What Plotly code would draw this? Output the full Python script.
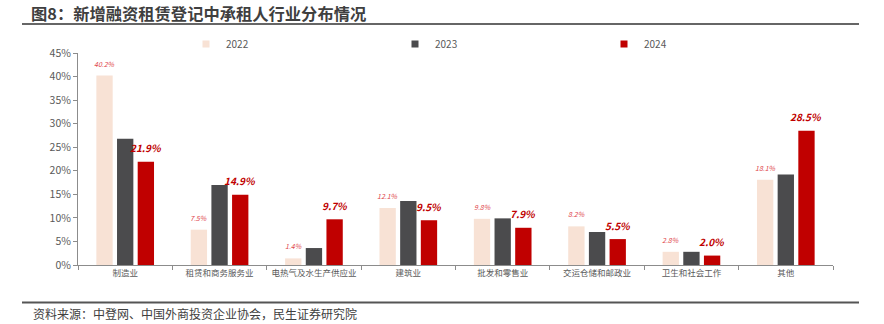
import plotly.graph_objects as go

# Industry distribution of lessees in new financial-leasing registrations (%)
categories = ["制造业", "租赁和商务服务业", "电热气及水生产供应业", "建筑业",
              "批发和零售业", "交运仓储和邮政业", "卫生和社会工作", "其他"]
years = ["2022", "2023", "2024"]
share_2022 = [40.2, 7.5, 1.4, 12.1, 9.8, 8.2, 2.8, 18.1]
share_2023 = [26.8, 17.0, 3.6, 13.6, 9.9, 7.0, 2.8, 19.2]
share_2024 = [21.9, 14.9, 9.7, 9.5, 7.9, 5.5, 2.0, 28.5]
y_ticks = [0, 5, 10, 15, 20, 25, 30, 35, 40, 45]

colors = {"2022": "#F8E2D5", "2023": "#4B4B4D", "2024": "#C00000"}
series = {"2022": share_2022, "2023": share_2023, "2024": share_2024}

FONT = "Noto Sans CJK SC"
W, H = 884, 324
L, R, T, B = 78, 51, 53, 59
plot_w = W - L - R
plot_h = H - T - B


def px_x(px):
    return (px - L) / plot_w


def px_y(py):
    return (H - B - py) / plot_h


fig = go.Figure()
for yr in years:
    fig.add_trace(go.Bar(
        x=categories, y=series[yr], name=yr,
        marker=dict(color=colors[yr], line=dict(width=0)),
        showlegend=False, hoverinfo="skip",
    ))
    # small square legend swatches
    fig.add_trace(go.Scatter(
        x=[None], y=[None], mode="markers", name=yr,
        marker=dict(symbol="square", size=7, color=colors[yr]),
    ))

annotations = []
bar_pitch = plot_w / len(categories) * (1 - 0.343) / 3
for cat, v in zip(categories, share_2022):
    annotations.append(dict(
        x=cat, y=v, xref="x", yref="y", text=f"{v:.1f}%", showarrow=False,
        xshift=-bar_pitch, yshift=12, yanchor="middle",
        font=dict(family=FONT, size=7, color="#E0474C", style="italic"),
    ))
for cat, v in zip(categories, share_2024):
    annotations.append(dict(
        x=cat, y=v, xref="x", yref="y", text=f"<b>{v:.1f}%</b>", showarrow=False,
        xshift=bar_pitch, yshift=14, yanchor="middle",
        font=dict(family=FONT, size=10, color="#C00000", style="italic"),
    ))
annotations.append(dict(
    x=px_x(31), y=px_y(313), xref="paper", yref="paper", xanchor="left",
    yanchor="middle", showarrow=False,
    text="资料来源：中登网、中国外商投资企业协会，民生证券研究院",
    font=dict(family=FONT, size=12, color="#404040"),
))

shapes = [
    dict(type="line", xref="paper", yref="paper", x0=px_x(22), x1=px_x(859),
         y0=px_y(24), y1=px_y(24), line=dict(color="#666666", width=2)),
    dict(type="line", xref="paper", yref="paper", x0=px_x(22), x1=px_x(859),
         y0=px_y(302.5), y1=px_y(302.5), line=dict(color="#555555", width=2)),
]

fig.update_layout(
    width=W, height=H,
    margin=dict(l=L, r=R, t=T, b=B),
    paper_bgcolor="white", plot_bgcolor="white",
    barmode="group", bargap=0.343, bargroupgap=0.21,
    font=dict(family=FONT, color="#595959"),
    title=dict(
        text="<b>图8：新增融资租赁登记中承租人行业分布情况</b>",
        x=31 / W, xref="container", xanchor="left",
        y=1 - 14 / H, yref="container", yanchor="middle",
        font=dict(family=FONT, size=16.3, color="#3F3F3F"),
    ),
    legend=dict(
        orientation="h", x=px_x(186), y=px_y(44), xanchor="left", yanchor="middle",
        entrywidth=164, entrywidthmode="pixels",
        font=dict(family=FONT, size=10, color="#595959"),
        bgcolor="rgba(0,0,0,0)", itemclick=False, itemdoubleclick=False,
    ),
    xaxis=dict(
        showline=True, linecolor="#8C8C8C", linewidth=1,
        ticks="outside", tickson="boundaries", ticklen=4, tickcolor="#8C8C8C",
        tickfont=dict(family=FONT, size=8.5, color="#595959"),
        showgrid=False, zeroline=False,
    ),
    yaxis=dict(
        range=[0, 45], tickvals=y_ticks, ticktext=[f"{t}%" for t in y_ticks],
        showline=True, linecolor="#8C8C8C", linewidth=1,
        ticks="outside", ticklen=4, tickcolor="#8C8C8C",
        tickfont=dict(family=FONT, size=10.5, color="#595959"),
        showgrid=False, zeroline=False,
    ),
    annotations=annotations,
    shapes=shapes,
)

fig.write_html("out.html")
